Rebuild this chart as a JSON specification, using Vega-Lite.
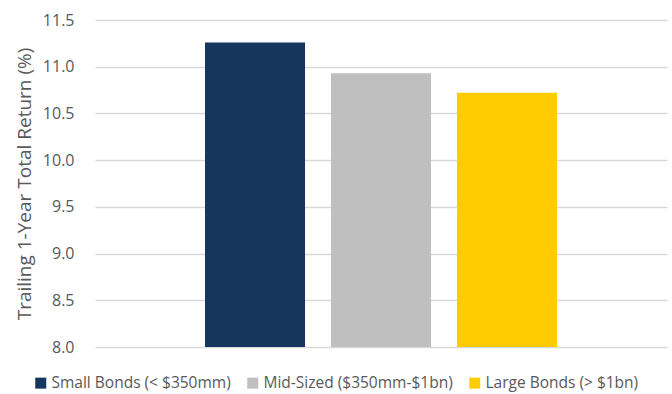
{
  "$schema": "https://vega.github.io/schema/vega-lite/v6.json",
  "width": 572,
  "height": 327,
  "autosize": "none",
  "padding": {"left": 95, "top": 20, "right": 5, "bottom": 47},
  "background": "white",
  "data": {"values": [
    {"series": "Small Bonds (< $350mm)", "value": 11.26},
    {"series": "Mid-Sized ($350mm-$1bn)", "value": 10.93},
    {"series": "Large Bonds (> $1bn)", "value": 10.72}
  ]},
  "mark": {"type": "bar", "clip": true},
  "encoding": {
    "x": {"field": "series", "type": "nominal", "sort": null, "axis": null,
      "scale": {"paddingInner": 0.206, "paddingOuter": 0.873}},
    "y": {"field": "value", "type": "quantitative",
      "scale": {"domain": [8, 11.5], "zero": false, "nice": false},
      "axis": {"title": "Trailing 1-Year Total Return (%)", "values": [8, 8.5, 9, 9.5, 10, 10.5, 11, 11.5],
        "format": ".1f", "domain": false, "ticks": false, "labelPadding": 21,
        "gridColor": "#d9d9d9", "gridWidth": 1.3, "labelColor": "#595959", "titleColor": "#595959",
        "labelFont": "Open Sans", "titleFont": "Open Sans", "labelFontSize": 16, "titleFontSize": 19, "titleFontWeight": "normal",
        "titlePadding": 8}},
    "color": {"field": "series", "type": "nominal", "sort": null,
      "scale": {"range": ["#17365d", "#bfbfbf", "#ffcc00"]},
      "legend": {"title": null, "orient": "none", "direction": "horizontal", "legendX": -62, "legendY": 355,
        "symbolType": "square", "symbolSize": 121, "symbolStrokeWidth": 0, "labelFont": "Open Sans", "labelFontSize": 15.5,
        "labelColor": "#595959", "columnPadding": 14, "labelLimit": 300, "symbolOffset": 0, "labelOffset": 3}}
  },
  "config": {"view": {"stroke": null}}
}
